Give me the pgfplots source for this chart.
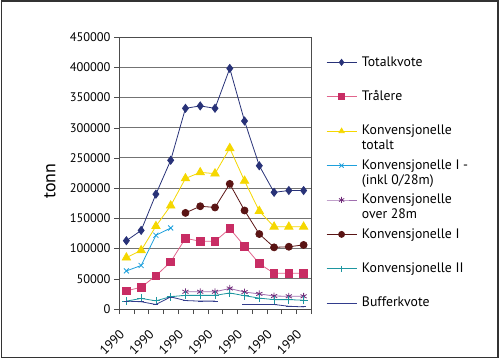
\documentclass[border=0pt]{standalone}
\usepackage{pgfplots}
\pgfplotsset{compat=1.18}
\usepackage{fontspec}
\setmainfont{PT Sans}
\definecolor{cNavy}{RGB}{40,50,120}
\definecolor{cPink}{RGB}{200,45,100}
\definecolor{cPinkL}{RGB}{225,100,140}
\definecolor{cYel}{RGB}{245,215,0}
\definecolor{cBlue}{RGB}{30,160,220}
\definecolor{cPurp}{RGB}{110,40,120}
\definecolor{cPurpL}{RGB}{160,110,175}
\definecolor{cBrown}{RGB}{90,20,20}
\definecolor{cTeal}{RGB}{30,150,160}
\definecolor{cBuf}{RGB}{50,60,140}
\newcommand{\yr}{\rotatebox{45}{1990}}
\begin{document}
\begin{tikzpicture}
\path[use as bounding box] (0bp,0bp) rectangle (500bp,359bp);
\draw[line width=1.5bp, black!80] (1.5bp,1.5bp) rectangle (498bp,358bp);
\begin{axis}[
 at={(119bp,50bp)}, anchor=south west,
 scale only axis, width=192bp, height=272bp,
 xmin=0.5, xmax=13.5, ymin=0, ymax=450000,
 ytick={0,50000,...,450000},
 scaled y ticks=false,
 /pgf/number format/assume math mode=true,
 yticklabel style={/pgf/number format/fixed, /pgf/number format/1000 sep={}, font=\fontsize{12.5}{14}\selectfont},
 xtick={1,3,5,7,9,11,13},
 xticklabels={\yr,\yr,\yr,\yr,\yr,\yr,\yr},
 minor xtick={0.5,1.5,2.5,3.5,4.5,5.5,6.5,7.5,8.5,9.5,10.5,11.5,12.5,13.5},
 major x tick style={draw=none},
 minor x tick style={draw=black!70},
 tick align=outside, xtick pos=bottom, ytick pos=left,
 major tick length=5bp, minor tick length=5bp,
 tick style={black!70},
 xticklabel style={anchor=north east, font=\fontsize{13}{14}\selectfont, inner sep=0pt, xshift=-1bp, yshift=-15bp},
 ymajorgrids, grid style={black!55, line width=0.8bp},
 axis line style={black!70, line width=0.8bp},
 ylabel={tonn},
 ylabel style={at={(axis description cs:-0.36,0.47)}, anchor=center, font=\fontsize{18}{20}\selectfont},
 unbounded coords=jump,
 legend style={at={(axis description cs:1.078,0.9265)}, anchor=north west, draw=none, fill=none, inner sep=0pt, row sep=0pt, column sep=5bp, font=\fontsize{13.8}{15}\selectfont, nodes={text height=9bp, text depth=25.4bp, inner sep=0pt, anchor=base west}},
 legend cell align=left,
 legend image code/.code={\draw[mark repeat=2,mark phase=2,mark size=3bp,#1] plot coordinates {(0bp,3.8bp) (15bp,3.8bp) (30bp,3.8bp)};},
]
\addplot[color=cNavy, line width=0.8bp, mark=diamond*, mark size=4bp] table {
x y
1 113000
2 130000
3 190000
4 246000
5 332000
6 336000
7 332000
8 398000
9 311000
10 237000
11 193000
12 196000
13 196000
};
\addlegendentry{Totalkvote}
\addplot[color=cPinkL, line width=0.8bp, mark=square*, mark size=3.8bp, mark options={fill=cPink, draw=cPink}] table {
x y
1 30000
2 36000
3 55000
4 78000
5 117000
6 112000
7 112000
8 133000
9 104000
10 75000
11 59000
12 59000
13 59000
};
\addlegendentry{Trålere}
\addplot[color=cYel, line width=0.8bp, mark=triangle*, mark size=4.8bp] table {
x y
1 85000
2 97000
3 137000
4 171000
5 216000
6 226000
7 224000
8 266000
9 212000
10 162000
11 136000
12 136000
13 136000
};
\addlegendentry{\begin{tabular}[t]{@{}l@{}}Konvensjonelle\\totalt\end{tabular}}
\addplot[color=cBlue, line width=0.8bp, mark=x, mark size=3.5bp] table {
x y
1 63000
2 72000
3 122000
4 134000
};
\addlegendentry{\begin{tabular}[t]{@{}l@{}}Konvensjonelle I -\\(inkl 0/28m)\end{tabular}}
\addplot[color=cPurpL, line width=0.8bp, mark=asterisk, mark size=3.5bp, mark options={draw=cPurp}] table {
x y
5 28500
6 28500
7 28500
8 34000
9 28000
10 25000
11 21500
12 21000
13 21000
};
\addlegendentry{\begin{tabular}[t]{@{}l@{}}Konvensjonelle\\over 28m\end{tabular}}
\addplot[color=cBrown, line width=0.8bp, mark=*, mark size=3.5bp] table {
x y
5 159000
6 170000
7 168000
8 207000
9 163000
10 124000
11 102000
12 103000
13 106000
};
\addlegendentry{Konvensjonelle I}
\addplot[color=cTeal, line width=0.8bp, mark=+, mark size=4bp] table {
x y
1 13000
2 17500
3 13500
4 20500
5 22500
6 22500
7 22500
8 26500
9 22000
10 18000
11 15500
12 15500
13 14500
};
\addlegendentry{Konvensjonelle II}
\addplot[color=cBuf, line width=0.8bp, mark=-, mark size=2.5bp] table {
x y
1 13000
2 12000
3 7500
4 20000
5 14000
6 13000
7 13000
8 nan
9 7500
10 7500
11 7500
12 4500
13 3500
};
\addlegendentry{Bufferkvote}
\end{axis}
\end{tikzpicture}
\end{document}
